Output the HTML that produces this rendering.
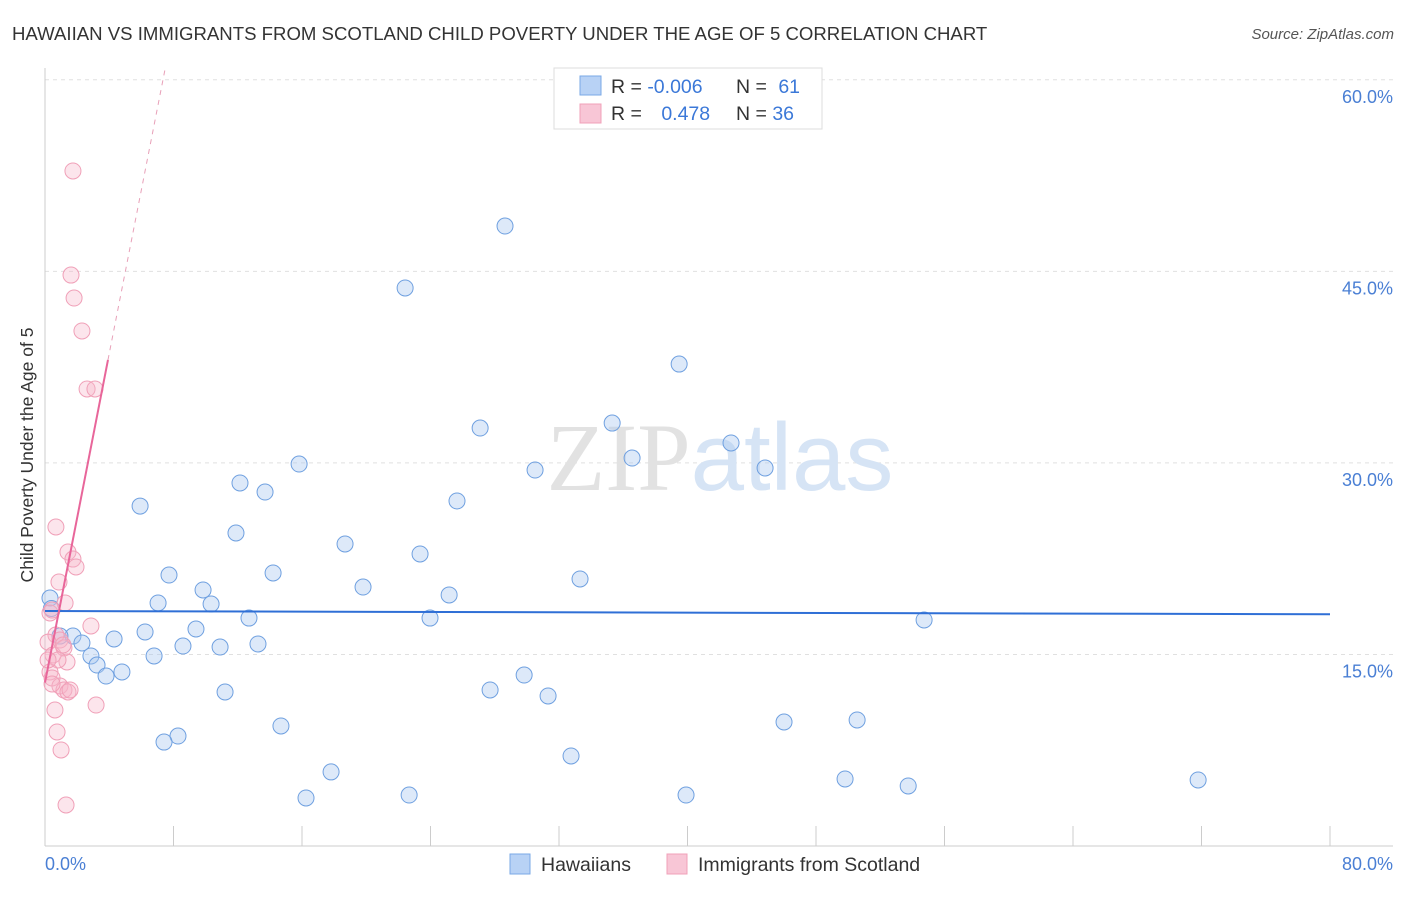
<!DOCTYPE html>
<html><head><meta charset="utf-8"><style>
body{margin:0;background:#fff;font-family:"Liberation Sans",sans-serif;}
svg text{font-family:"Liberation Sans",sans-serif;}
</style></head><body>
<svg id="chart" width="1406" height="892" xmlns="http://www.w3.org/2000/svg">
<text x="12" y="40" font-size="18.6" fill="#333">HAWAIIAN VS IMMIGRANTS FROM SCOTLAND CHILD POVERTY UNDER THE AGE OF 5 CORRELATION CHART</text>
<text x="1394" y="39" font-size="15" fill="#555" font-style="italic" text-anchor="end">Source: ZipAtlas.com</text>
<g id="grid"></g>
<text x="720" y="490" font-size="96" text-anchor="middle"><tspan fill="#e2e2e2" font-family="Liberation Serif">ZIP</tspan><tspan fill="#d6e4f5">atlas</tspan></text>
<g id="ticks"></g>
<g id="points"></g>
<g id="trends"></g>
<text transform="translate(33,455) rotate(-90)" font-size="17.5" fill="#333" text-anchor="middle">Child Poverty Under the Age of 5</text>
<text x="45" y="870" font-size="18" fill="#4a7fd4">0.0%</text>
<text x="1393" y="870" font-size="18" fill="#4a7fd4" text-anchor="end">80.0%</text>
<g>
<rect x="554" y="68" width="268" height="61" fill="#fff" stroke="#ddd"/>
<rect x="580" y="76" width="21" height="19" fill="#b8d2f5" stroke="#7aa8e6"/>
<rect x="580" y="104" width="21" height="19" fill="#f8c6d6" stroke="#f0a0b8"/>
<text x="611" y="93" font-size="19.5" fill="#333">R = <tspan fill="#3b78d8">-0.006</tspan></text>
<text x="736" y="93" font-size="19.5" fill="#333">N = <tspan fill="#3b78d8" dx="6">61</tspan></text>
<text x="611" y="120" font-size="19.5" fill="#333">R = <tspan fill="#3b78d8" dx="14">0.478</tspan></text>
<text x="736" y="120" font-size="19.5" fill="#333">N = <tspan fill="#3b78d8">36</tspan></text>
</g>
<g>
<rect x="510" y="854" width="20" height="20" fill="#b8d2f5" stroke="#7aa8e6"/>
<text x="541" y="871" font-size="19.5" fill="#333">Hawaiians</text>
<rect x="667" y="854" width="20" height="20" fill="#f8c6d6" stroke="#f0a0b8"/>
<text x="698" y="871" font-size="19.5" fill="#333">Immigrants from Scotland</text>
</g>
</svg>
<script>
const yTicks=[15,30,45,60];
const yTickLabels=["15.0%","30.0%","45.0%","60.0%"];
const xTicks=[0,8,16,24,32,40,48,56,64,72,80];
const blueX=[28.64,22.42,39.48,35.31,27.09,42.71,36.55,44.83,30.51,15.82,12.14,13.70,25.65,5.92,11.89,18.68,23.35,7.72,14.20,33.31,19.80,9.84,25.16,7.04,10.34,12.70,23.97,54.73,6.23,9.40,4.30,1.74,0.93,2.30,8.59,10.90,13.26,2.86,6.79,3.24,4.79,3.80,29.83,27.71,31.32,11.21,14.69,46.01,50.56,8.28,7.41,32.75,17.81,49.81,71.79,53.74,16.25,22.67,39.91,0.31,0.4];
const blueY=[48.55,43.70,37.74,33.12,32.73,31.56,30.38,29.60,29.44,29.91,28.43,27.72,27.02,26.62,24.51,23.65,22.87,21.22,21.38,20.91,20.28,20.05,19.66,19.03,18.95,17.85,17.85,17.70,16.76,16.99,16.21,16.44,16.44,15.90,15.66,15.58,15.82,14.88,14.88,14.17,13.63,13.31,13.39,12.22,11.75,12.06,9.40,9.71,9.87,8.61,8.14,7.05,5.80,5.25,5.17,4.70,3.76,3.99,3.99,19.42,18.6];
const pinkX=[1.74,1.62,1.81,2.30,2.62,3.11,0.68,1.43,1.74,1.93,0.87,1.25,0.31,2.86,0.68,0.93,0.19,1.18,0.50,1.37,0.81,0.31,0.44,0.93,1.18,1.43,0.44,3.18,0.62,0.75,1.00,1.31,0.44,0.19,1.12,1.56];
const pinkY=[52.86,44.71,42.91,40.33,35.79,35.79,24.98,23.02,22.47,21.85,20.67,19.03,18.25,17.23,16.52,16.13,15.97,15.51,14.96,14.41,14.57,13.63,13.16,12.53,12.22,12.06,12.69,11.04,10.65,8.93,7.52,3.21,18.48,14.57,15.74,12.22];
const blueTrend=[[0,18.4],[80,18.15]];
const pinkTrendSolid=[[0,12.8],[3.92,38.06]];
const pinkTrendDash=[[3.92,38.06],[7.47,60.8]];
const NS="http://www.w3.org/2000/svg";
const sx=v=>45+v*16.0625, sy=v=>846-v*12.77;
function mk(t,a,p){const e=document.createElementNS(NS,t);for(const k in a)e.setAttribute(k,a[k]);p.appendChild(e);return e;}
const grid=document.getElementById('grid'),ticks=document.getElementById('ticks'),pts=document.getElementById('points'),tr=document.getElementById('trends');
yTicks.forEach((v,i)=>{
 const l=mk('line',{x1:45,x2:1393,y1:sy(v),y2:sy(v),stroke:'#e0e0e0','stroke-dasharray':'4,4'},grid);
 
 
 const t=mk('text',{x:1393,y:sy(v)+23,'font-size':18,fill:'#4a7fd4','text-anchor':'end'},ticks);t.textContent=yTickLabels[i];
 
 
});
const ax=mk('line',{x1:45,x2:1393,y1:846,y2:846,stroke:'#ccc'},ticks);


const ay=mk('line',{x1:45,x2:45,y1:68,y2:846,stroke:'#ccc'},ticks);


xTicks.forEach(v=>{if(v===0)return;const l=mk('line',{x1:sx(v),x2:sx(v),y1:826,y2:846,stroke:'#ccc'},ticks);
 
 });
blueX.forEach((x,i)=>{const c=mk('circle',{cx:sx(x),cy:sy(blueY[i]),r:8,fill:'rgba(170,200,240,0.4)',stroke:'#6fa0e0','stroke-width':1},pts);
 
 });
pinkX.forEach((x,i)=>{const c=mk('circle',{cx:sx(x),cy:sy(pinkY[i]),r:8,fill:'rgba(245,180,200,0.35)',stroke:'#f0a0b8','stroke-width':1},pts);
 
 });
function line(p,st,dash,w,name){const l=mk('line',{x1:sx(p[0][0]),y1:sy(p[0][1]),x2:sx(p[1][0]),y2:sy(p[1][1]),stroke:st,'stroke-width':w},tr);if(dash)l.setAttribute('stroke-dasharray',dash);
 
 }
line(blueTrend,'#2f6fd6',null,2,'hawaiian-trend');
line(pinkTrendSolid,'#e8669a',null,2,'scotland-trend');
line(pinkTrendDash,'#e8a0b8','5,5',1,'scotland-trend-extension');
</script>
</body></html>
